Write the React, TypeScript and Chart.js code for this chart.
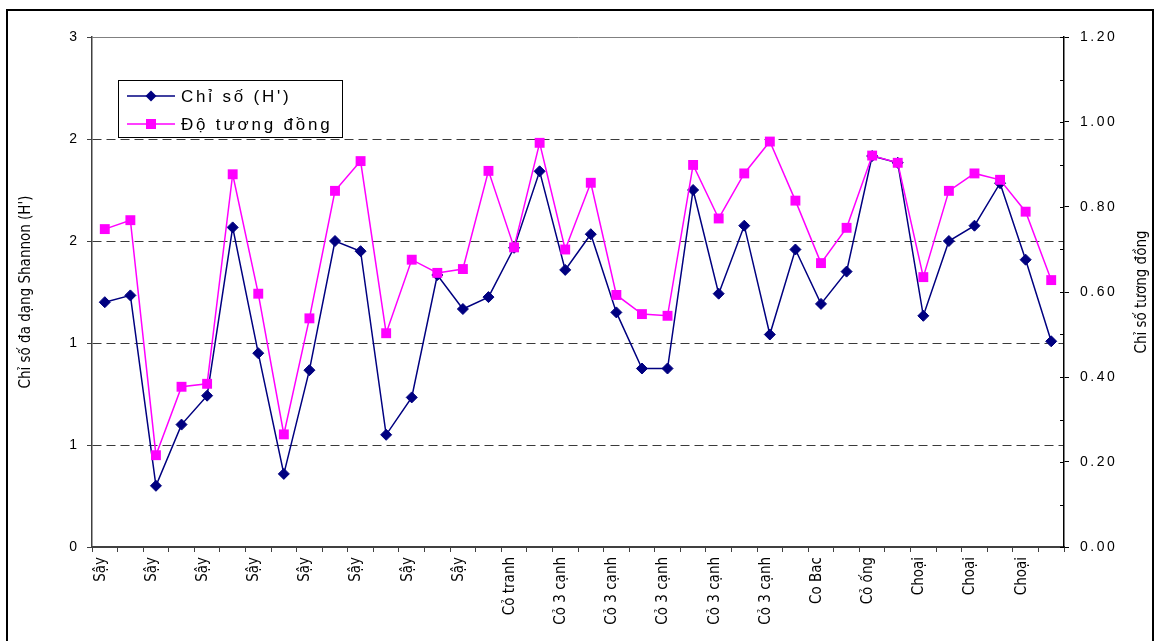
import React, { useEffect, useRef } from 'react';
import { Chart, registerables } from 'chart.js';

Chart.register(...registerables);

// Sampling sites (every second name is printed on the axis)
const CATEGORIES = [
  'Sậy', 'Sậy', 'Sậy', 'Sậy', 'Sậy', 'Sậy', 'Sậy', 'Sậy',
  'Sậy', 'Sậy', 'Sậy', 'Sậy', 'Sậy', 'Sậy', 'Sậy', 'Sậy',
  'Cỏ tranh', 'Cỏ tranh',
  'Cỏ 3 cạnh', 'Cỏ 3 cạnh', 'Cỏ 3 cạnh', 'Cỏ 3 cạnh', 'Cỏ 3 cạnh',
  'Cỏ 3 cạnh', 'Cỏ 3 cạnh', 'Cỏ 3 cạnh', 'Cỏ 3 cạnh', 'Cỏ 3 cạnh',
  'Co Bac', 'Co Bac',
  'Cỏ ống', 'Cỏ ống',
  'Choại', 'Choại', 'Choại', 'Choại', 'Choại', 'Choại',
];

// Shannon diversity index H' (left axis)
const SHANNON_H = [
  1.44, 1.48, 0.36, 0.72, 0.89, 1.88, 1.14, 0.43, 1.04, 1.80,
  1.74, 0.66, 0.88, 1.60, 1.40, 1.47, 1.76, 2.21, 1.63, 1.84,
  1.38, 1.05, 1.05, 2.10, 1.49, 1.89, 1.25, 1.75, 1.43, 1.62,
  2.30, 2.26, 1.36, 1.80, 1.89, 2.14, 1.69, 1.21,
];

// Similarity index (right axis)
const SIMILARITY = [
  0.748, 0.769, 0.216, 0.377, 0.384, 0.877, 0.596, 0.265, 0.538, 0.838,
  0.908, 0.503, 0.676, 0.645, 0.654, 0.885, 0.705, 0.951, 0.700, 0.857,
  0.593, 0.548, 0.544, 0.899, 0.773, 0.879, 0.954, 0.815, 0.668, 0.751,
  0.921, 0.904, 0.635, 0.838, 0.879, 0.864, 0.789, 0.628,
];

const LEFT_TICKS = [0, 0.6, 1.2, 1.8, 2.4, 3];
const RIGHT_TICKS = [0, 0.2, 0.4, 0.6, 0.8, 1.0, 1.2];
const RIGHT_MINOR_STEP = 0.1;

const SERIES_NAMES = ["Chỉ số (H')", 'Độ tương đồng'];
const LEFT_TITLE = "Chỉ số đa dạng Shannon (H')";
const RIGHT_TITLE = 'Chỉ số tương đồng';

const NAVY = '#000080';
const MAGENTA = '#FF00FF';
const SANS = "'Liberation Sans', Arial, sans-serif";
const NARROW = "'Liberation Sans Narrow', 'Arial Narrow', 'DejaVu Sans Condensed', 'Liberation Sans', sans-serif";
const NARROW_SIZE = 15;

function diamond(ctx: CanvasRenderingContext2D, x: number, y: number, r: number) {
  ctx.beginPath();
  ctx.moveTo(x - r, y);
  ctx.lineTo(x, y - r);
  ctx.lineTo(x + r, y);
  ctx.lineTo(x, y + r);
  ctx.closePath();
  ctx.fill();
}

const extras = {
  id: 'extras',
  beforeDraw(chart: any) {
    const ctx: CanvasRenderingContext2D = chart.ctx;
    // spaced digits on the right-hand axis
    const y1 = chart.scales.y1;
    if (y1 && !y1.__spaced) {
      const orig = y1.drawLabels.bind(y1);
      y1.drawLabels = (area: any) => {
        ctx.save();
        (ctx as any).letterSpacing = '2.5px';
        orig(area);
        ctx.restore();
      };
      y1.__spaced = true;
    }
    ctx.save();
    ctx.fillStyle = '#ffffff';
    ctx.fillRect(0, 0, chart.width, chart.height);
    ctx.restore();
  },
  afterDraw(chart: any) {
    const ctx: CanvasRenderingContext2D = chart.ctx;
    const { right, top, bottom } = chart.chartArea;
    ctx.save();

    // outer frame
    ctx.strokeStyle = '#000';
    ctx.lineWidth = 2;
    ctx.strokeRect(7, 10, 1146, 660);

    // inner ticks on the right axis (major and minor)
    const y1 = chart.scales.y1;
    ctx.strokeStyle = '#000';
    ctx.lineWidth = 1;
    ctx.beginPath();
    for (let v = 0; v <= 1.2 + 1e-9; v += RIGHT_MINOR_STEP) {
      const y = Math.round(y1.getPixelForValue(v)) + 0.5;
      ctx.moveTo(right - 4, y);
      ctx.lineTo(right, y);
    }
    ctx.stroke();

    // right axis title, reading upward
    ctx.save();
    ctx.translate(1142, (top + bottom) / 2);
    ctx.rotate(-Math.PI / 2);
    ctx.font = `${NARROW_SIZE}px ${NARROW}`;
    ctx.fillStyle = '#000';
    ctx.textAlign = 'center';
    ctx.textBaseline = 'middle';
    ctx.fillText(RIGHT_TITLE, 0, 0);
    ctx.restore();

    // legend box
    const bx = 118.5, by = 80.5, bw = 224, bh = 57;
    ctx.fillStyle = '#fff';
    ctx.fillRect(bx, by, bw, bh);
    ctx.strokeStyle = '#000';
    ctx.lineWidth = 1;
    ctx.strokeRect(bx, by, bw, bh);

    const rows = [96, 124];
    const colors = [NAVY, MAGENTA];
    rows.forEach((ry, i) => {
      ctx.strokeStyle = colors[i];
      ctx.fillStyle = colors[i];
      ctx.lineWidth = 1.5;
      ctx.beginPath();
      ctx.moveTo(127, ry);
      ctx.lineTo(175, ry);
      ctx.stroke();
      if (i === 0) diamond(ctx, 151, ry, 5.5);
      else ctx.fillRect(146, ry - 5, 10, 10);
    });
    ctx.fillStyle = '#000';
    ctx.font = `17px ${SANS}`;
    (ctx as any).letterSpacing = '2.8px';
    ctx.textAlign = 'left';
    ctx.textBaseline = 'middle';
    ctx.fillText(SERIES_NAMES[0], 181, rows[0] + 1);
    ctx.fillText(SERIES_NAMES[1], 181, rows[1] + 1);

    ctx.restore();
  },
};

export default function App() {
  const ref = useRef<HTMLCanvasElement>(null);

  useEffect(() => {
    if (!ref.current) return;
    const chart = new Chart(ref.current, {
      type: 'line',
      data: {
        labels: CATEGORIES,
        datasets: [
          {
            label: SERIES_NAMES[0],
            data: SHANNON_H,
            yAxisID: 'y',
            borderColor: NAVY,
            backgroundColor: NAVY,
            borderWidth: 1.5,
            pointStyle: 'rectRot',
            pointRadius: 5.5,
            pointBorderWidth: 1,
            pointBorderColor: NAVY,
            pointBackgroundColor: NAVY,
            tension: 0,
            order: 1,
          },
          {
            label: SERIES_NAMES[1],
            data: SIMILARITY,
            yAxisID: 'y1',
            borderColor: MAGENTA,
            backgroundColor: MAGENTA,
            borderWidth: 1.5,
            pointStyle: 'rect',
            pointRadius: 7,
            pointBorderWidth: 0,
            pointBackgroundColor: MAGENTA,
            tension: 0,
            order: 0,
          },
        ],
      },
      options: {
        animation: false,
        responsive: false,
        devicePixelRatio: 1,
        layout: { padding: { top: 37, left: 0, right: 0, bottom: 0 } },
        plugins: {
          legend: { display: false },
          tooltip: { enabled: false },
        },
        scales: {
          x: {
            type: 'category',
            offset: true,
            afterFit: (s: any) => { s.height = 94; },
            grid: {
              display: true,
              drawOnChartArea: false,
              offset: true,
              tickLength: 5,
              tickColor: '#404040',
              tickWidth: 1,
            },
            border: { display: true, color: '#404040', width: 2 },
            ticks: {
              autoSkip: false,
              maxRotation: 90,
              minRotation: 90,
              padding: 5,
              labelOffset: -4,
              color: '#000',
              font: { family: NARROW, size: NARROW_SIZE },
              callback: function (this: any, value: any, index: number) {
                return index % 2 === 0 ? this.getLabelForValue(value) : '';
              },
            },
          },
          y: {
            position: 'left',
            min: 0,
            max: 3,
            afterFit: (s: any) => { s.width = 92; },
            afterBuildTicks: (s: any) => { s.ticks = LEFT_TICKS.map((value) => ({ value })); },
            grid: {
              color: (c: any) => (c.tick && c.tick.value === 0 ? 'rgba(0,0,0,0)' : c.tick && c.tick.value === 3 ? '#808080' : '#3a3a3a'),
              lineWidth: 1,
              tickLength: 5,
              tickColor: '#404040',
            },
            border: {
              display: true,
              color: '#404040',
              width: 1.5,
              dash: (c: any) => (c.tick && c.tick.value === 3 ? [] : [9, 5]),
            },
            ticks: {
              padding: 10,
              color: '#000',
              font: { family: SANS, size: 14 },
              callback: (v: any) => String(Math.round(Number(v))),
            },
            title: {
              display: true,
              text: LEFT_TITLE,
              color: '#000',
              font: { family: NARROW, size: NARROW_SIZE },
              padding: { top: 17, bottom: 0 },
            },
          },
          y1: {
            position: 'right',
            min: 0,
            max: 1.2,
            afterFit: (s: any) => { s.width = 91; },
            afterBuildTicks: (s: any) => { s.ticks = RIGHT_TICKS.map((value) => ({ value })); },
            grid: {
              drawOnChartArea: false,
              tickLength: 5,
              tickColor: '#000',
            },
            border: { display: true, color: '#000', width: 1.5 },
            ticks: {
              padding: 11,
              color: '#000',
              font: { family: SANS, size: 14 },
              callback: (v: any) => Number(v).toFixed(2),
            },
          },
        },
      },
      plugins: [extras],
    } as any);
    return () => chart.destroy();
  }, []);

  return (
    <div style={{ position: 'fixed', left: 0, top: 0, width: 1155, height: 641, background: '#fff' }}>
      <canvas ref={ref} width={1155} height={641} style={{ display: 'block' }} />
    </div>
  );
}
